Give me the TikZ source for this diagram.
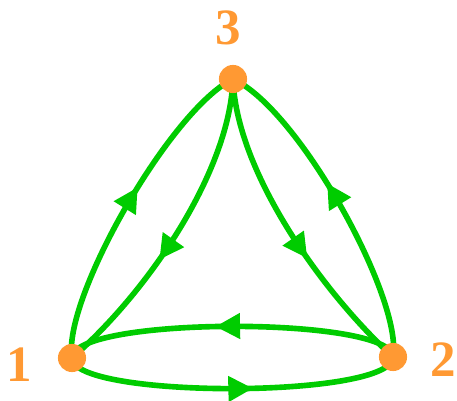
\documentclass[tikz,border=0pt]{standalone}
\usepackage{fontspec}
\setmainfont{Liberation Serif}
\usetikzlibrary{arrows.meta,decorations.markings,backgrounds}
\definecolor{edgegreen}{RGB}{0,204,0}
\definecolor{vorange}{RGB}{255,153,51}
\tikzset{
  vertex/.style={circle,fill=vorange,minimum size=16pt,inner sep=0pt},
  vlabel/.style={text=vorange,font=\fontsize{29}{30}\selectfont\bfseries,inner sep=0pt},
  edge/.style={draw=edgegreen,line width=3.2pt,
    postaction={decorate},
    decoration={markings,mark=at position #1 with {\arrow{Triangle[length=14pt,width=14pt]}}}},
  edge/.default=0.55,
}
\begin{document}
\begin{tikzpicture}[x=0.02cm,y=-0.02cm]
\useasboundingbox (0,0) rectangle (457,401);
\node[vertex] (n3) at (233,79) {};
\node[vertex] (n1) at (72,358) {};
\node[vertex] (n2) at (393,357) {};
\node[vlabel] (l3) at (228,28) {3};
\node[vlabel] (l1) at (19,365) {1};
\node[vlabel] (l2) at (443,360) {2};
\begin{pgfonlayer}{background}
\path[edge=0.56,edgegreen] (n1.center) .. controls (62,300) and (170,110) .. (n3.center);
\path[edge=0.6,edgegreen] (n3.center) .. controls (230,170) and (150,290) .. (n1.center);
\path[edge=0.6,edgegreen] (n3.center) .. controls (236,170) and (320,290) .. (n2.center);
\path[edge=0.57,edgegreen] (n2.center) .. controls (403,300) and (300,110) .. (n3.center);
\path[edge=0.55,edgegreen] (n2.center) .. controls (393,316) and (72,316) .. (n1.center);
\path[edge=0.56,edgegreen] (n1.center) .. controls (72,399) and (393,399) .. (n2.center);
\end{pgfonlayer}
\end{tikzpicture}
\end{document}
